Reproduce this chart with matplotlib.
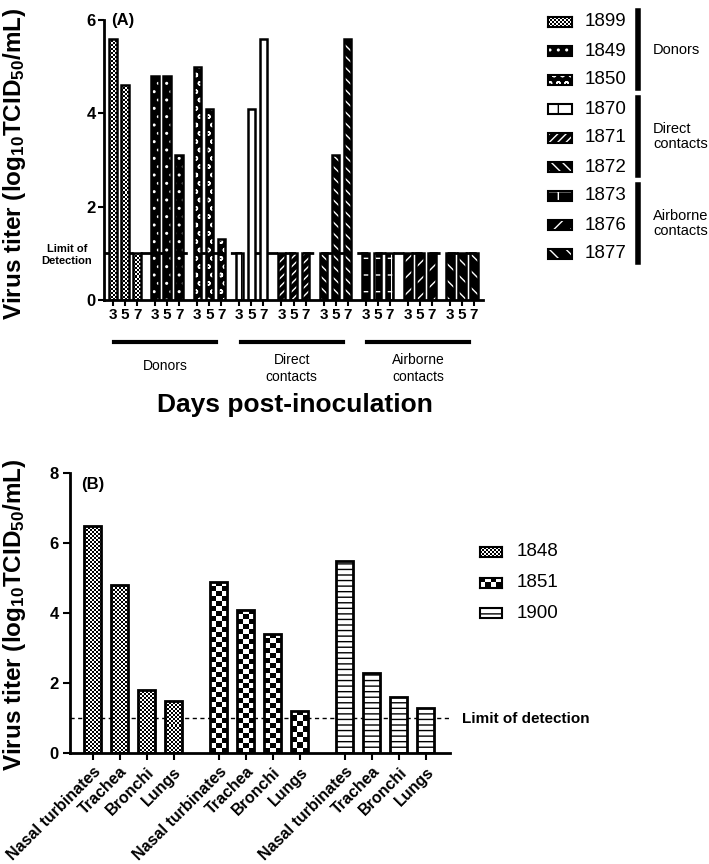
import matplotlib
matplotlib.use('Agg')
import matplotlib.pyplot as plt
from matplotlib.patches import Rectangle
import numpy as np

plt.rcParams['font.family'] = 'Liberation Sans'
plt.rcParams['mathtext.fontset'] = 'custom'
plt.rcParams['mathtext.rm'] = 'Liberation Sans:bold'
plt.rcParams['mathtext.default'] = 'rm'
plt.rcParams['hatch.linewidth'] = 1.0

# Data panel A (titer per hewan, hari 3/5/7)
hewan_a = ['1899', '1849', '1850', '1870', '1871', '1872', '1873', '1876', '1877']
hari = ['3', '5', '7']
titer_a = [[5.6, 4.6, 1.0],
           [4.8, 4.8, 3.1],
           [5.0, 4.1, 1.3],
           [1.0, 4.1, 5.6],
           [1.0, 1.0, 1.0],
           [1.0, 3.1, 5.6],
           [1.0, 1.0, 1.0],
           [1.0, 1.0, 1.0],
           [1.0, 1.0, 1.0]]
kelompok = ['Donors', 'Direct\ncontacts', 'Airborne\ncontacts']

# Data panel B (titer per organ)
organ = ['Nasal turbinates', 'Trachea', 'Bronchi', 'Lungs']
hewan_b = ['1848', '1851', '1900']
titer_b = [[6.5, 4.8, 1.8, 1.5],
           [4.9, 4.1, 3.4, 1.2],
           [5.5, 2.3, 1.6, 1.3]]
batas_deteksi = 1.0

# gaya: (warna isi, warna hatch, hatch, ukuran sel kotak-kotak px)
gaya_a = [('white', 'black', '', 2), ('black', 'white', '..', 0), ('black', 'white', 'oo', 0),
          ('white', 'black', '|', 0), ('black', 'white', '////', 0), ('black', 'white', '\\\\\\', 0),
          ('black', 'white', '+', 0), ('black', 'white', '//', 0), ('black', 'white', '\\\\', 0)]
gaya_b = [('white', 'black', '', 2), ('white', 'black', '', 5), ('white', 'black', '---', 0)]

W, H = 709, 864
fig = plt.figure(figsize=(W / 100, H / 100), dpi=100)


def fx(px):
    return px / W


def fy(py):
    return 1 - py / H


def kotak_kotak(nx, ny):
    return np.add.outer(np.arange(ny), np.arange(nx)) % 2


def batang(ax, x, h, w, gaya, lw):
    isi, hc, hatch, sel = gaya
    bars = ax.bar(x, h, w, color=isi, edgecolor=hc, hatch=hatch, linewidth=0, zorder=2)
    if sel:
        xl, yl = ax.get_xlim(), ax.get_ylim()
        ppx = ax.bbox.width / (xl[1] - xl[0])
        ppy = ax.bbox.height / (yl[1] - yl[0])
        for r in bars:
            nx = max(1, int(round(r.get_width() * ppx / sel)))
            ny = max(1, int(round(r.get_height() * ppy / sel)))
            im = ax.imshow(kotak_kotak(nx, ny), extent=(r.get_x(), r.get_x() + r.get_width(), 0, r.get_height()),
                           cmap='gray', vmin=0, vmax=1, interpolation='nearest', aspect='auto',
                           origin='lower', zorder=2.5)
            im.set_clip_path(r)
        ax.set_xlim(xl)
        ax.set_ylim(yl)
    ax.bar(x, h, w, fill=False, edgecolor='black', linewidth=lw, zorder=3)


def kotak(x0, y0, w, h, gaya):
    isi, hc, hatch, sel = gaya
    if sel:
        a = fig.add_axes([fx(x0), fy(y0 + h), w / W, h / H])
        a.imshow(kotak_kotak(int(round(w / sel)), int(round(h / sel))), cmap='gray', vmin=0, vmax=1,
                 interpolation='nearest', aspect='auto')
        a.set_xticks([])
        a.set_yticks([])
        for s in a.spines.values():
            s.set_linewidth(1.5)
        return
    fig.add_artist(Rectangle((fx(x0), fy(y0 + h)), w / W, h / H, transform=fig.transFigure,
                             facecolor=isi, edgecolor=hc, hatch=hatch, linewidth=0))
    fig.add_artist(Rectangle((fx(x0), fy(y0 + h)), w / W, h / H, transform=fig.transFigure,
                             fill=False, edgecolor='black', linewidth=1.5))


ylab = r'Virus titer (log$_{10}$TCID$_{50}$/mL)'

# ---------------- Panel A ----------------
axA = fig.add_axes([fx(104), fy(300), (483 - 104) / W, 280 / H])
axA.set_xlim(-0.75, 30.75)
axA.set_ylim(0, 6)
xpos = []
for g, nilai in enumerate(titer_a):
    x = g * 3.5 + np.arange(len(hari))
    xpos.extend(x)
    batang(axA, x, nilai, 0.62, gaya_a[g], 1.8)
axA.axhline(batas_deteksi, color='black', lw=2, dashes=(4, 2.5), zorder=1)
axA.set_yticks([0, 2, 4, 6])
axA.set_xticks(xpos)
axA.set_xticklabels(hari * len(hewan_a), fontsize=11, fontweight='bold')
for t in axA.get_yticklabels():
    t.set_fontweight('bold')
    t.set_fontsize(12)
for s in ['top', 'right']:
    axA.spines[s].set_visible(False)
for s in ['left', 'bottom']:
    axA.spines[s].set_linewidth(2)
axA.tick_params(width=1.5, length=4, pad=2)
axA.text(0.02, 1.0, '(A)', transform=axA.transAxes, fontsize=12, fontweight='bold', va='center')

# garis kelompok di bawah sumbu
trans = axA.get_xaxis_transform()
for k, nama in enumerate(kelompok):
    x0 = k * 10.5 + 0.1
    x1 = k * 10.5 + 9 - 0.4
    axA.plot([x0, x1], [-0.15, -0.15], color='black', lw=3, transform=trans, clip_on=False)
    yy = -0.235 if k == 0 else -0.245
    axA.text((x0 + x1) / 2, yy, nama, transform=trans, ha='center', va='center', fontsize=10,
             linespacing=1.2)

fig.text(fx(295), fy(405), 'Days post-inoculation', ha='center', va='center', fontsize=19,
         fontweight='bold')
fig.text(fx(15), fy(164), ylab, rotation=90, ha='center', va='center', fontsize=17.5,
         fontweight='bold')
fig.text(fx(67), fy(255), 'Limit of\nDetection', ha='center', va='center', fontsize=8,
         fontweight='bold', linespacing=1.3)

# legenda A
for i, nama in enumerate(hewan_a):
    yb = 22 + i * 29
    kotak(548, yb - 5, 24, 10, gaya_a[i])
    fig.text(fx(585), fy(yb), nama, ha='left', va='center', fontsize=13.5)
for k, nama in enumerate(kelompok):
    y0 = 22 + (3 * k) * 29 - 11
    y1 = 22 + (3 * k + 2) * 29 + 8
    fig.add_artist(plt.Line2D([fx(638), fx(638)], [fy(y0), fy(y1)], color='black', lw=4,
                              transform=fig.transFigure))
    fig.text(fx(653), fy((y0 + y1) / 2), nama, ha='left', va='center', fontsize=10.5,
             linespacing=1.15)

# ---------------- Panel B ----------------
axB = fig.add_axes([fx(70), fy(753), (450 - 70) / W, 280 / H])
axB.set_xlim(-0.84, 13.23)
axB.set_ylim(0, 8)
xposb = []
for g, nilai in enumerate(titer_b):
    x = g * 4.67 + np.arange(len(organ))
    xposb.extend(x)
    batang(axB, x, nilai, 0.63, gaya_b[g], 2)
axB.axhline(batas_deteksi, color='black', lw=1, dashes=(3, 2.5), zorder=1)
axB.set_yticks([0, 2, 4, 6, 8])
axB.set_xticks(xposb)
axB.set_xticklabels(organ * len(hewan_b), rotation=45, ha='right', rotation_mode='anchor',
                    fontsize=11.5, fontweight='bold')
for t in axB.get_yticklabels():
    t.set_fontweight('bold')
    t.set_fontsize(12)
for s in ['top', 'right']:
    axB.spines[s].set_visible(False)
for s in ['left', 'bottom']:
    axB.spines[s].set_linewidth(2)
axB.tick_params(width=1.5, length=5, pad=3)
axB.text(0.03, 0.96, '(B)', transform=axB.transAxes, fontsize=12, fontweight='bold', va='center')

fig.text(fx(462), fy(719), 'Limit of detection', ha='left', va='center', fontsize=11,
         fontweight='bold')
fig.text(fx(15), fy(615), ylab, rotation=90, ha='center', va='center', fontsize=17.5,
         fontweight='bold')

for i, nama in enumerate(hewan_b):
    yb = 552 + i * 30.5
    kotak(480, yb - 5, 22, 10, gaya_b[i])
    fig.text(fx(517), fy(yb), nama, ha='left', va='center', fontsize=13.5)

plt.savefig('out.png', dpi=100)
